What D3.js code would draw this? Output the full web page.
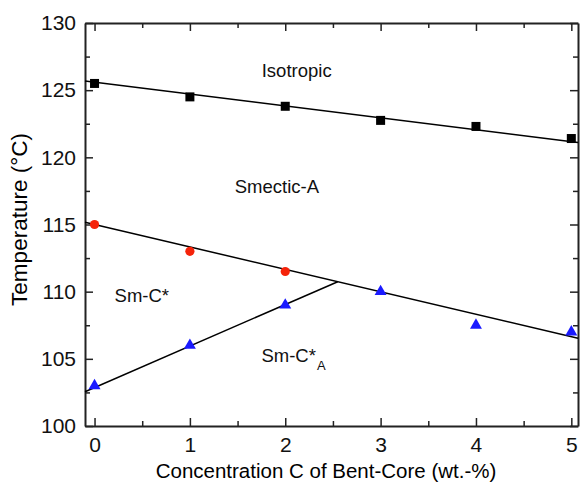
<!DOCTYPE html>
<html>
<head>
<meta charset="utf-8">
<script src="https://cdn.jsdelivr.net/npm/d3@7"></script>
<style>
  body { margin: 0; background: #fff; }
  text { font-family: "Liberation Sans", Arial, sans-serif; }
</style>
</head>
<body>
<div id="chart"></div>
<script>
/* Phase diagram: transition temperatures vs bent-core concentration */

// measured points
const conc = [0, 1, 2, 3, 4, 5];
const isoTemp = [125.5, 124.5, 123.8, 122.75, 122.3, 121.4];   // Iso -> SmA
const smcConc = [0, 1, 2];
const smcTemp = [115.0, 113.0, 111.5];                           // SmA -> SmC*
const smcaTemp = [103.0, 106.0, 109.0, 110.0, 107.5, 107.0];     // SmC* -> SmCA*

// fitted boundaries: [value at C=0, slope]
const isoFit = [125.6, -0.885];
const smcFit = [115.0, -1.67];
const smcaFit = [102.86, 3.09];

const xTicks = [0, 1, 2, 3, 4, 5];
const yTicks = [100, 105, 110, 115, 120, 125, 130];

const width = 580,
  height = 484,
  margin = {top: 23, right: 2, bottom: 58, left: 85};

const x = d3.scaleLinear().domain([-0.1, 5.07]).range([margin.left, width - margin.right]);
const y = d3.scaleLinear().domain([100, 130]).range([height - margin.bottom, margin.top]);

const svg = d3.select("#chart")
  .append("svg")
  .attr("width", width)
  .attr("height", height);

const minorX = d3.range(0.5, 5, 1);
const minorY = d3.range(102.5, 130, 5);

// axes with inward ticks on all four sides
function styleAxis(g) {
  g.select(".domain").attr("stroke", "#222").attr("stroke-width", 2);
  g.selectAll(".tick line").attr("stroke", "#222").attr("stroke-width", 1.5);
  g.selectAll(".tick text").attr("font-size", 21).attr("fill", "#111");
}

svg.append("g")
  .attr("transform", `translate(0,${y(100)})`)
  .call(d3.axisBottom(x).tickValues(xTicks).tickFormat(d3.format("d"))
    .tickSizeInner(-8).tickSizeOuter(0).tickPadding(11))
  .call(styleAxis);
svg.append("g")
  .attr("transform", `translate(0,${y(100)})`)
  .call(d3.axisBottom(x).tickValues(minorX).tickSize(-5).tickFormat(""))
  .call(styleAxis)
  .call(g => g.select(".domain").remove());

svg.append("g")
  .attr("transform", `translate(0,${y(130)})`)
  .call(d3.axisTop(x).tickValues(xTicks).tickSizeInner(-8).tickSizeOuter(0).tickFormat(""))
  .call(styleAxis);
svg.append("g")
  .attr("transform", `translate(0,${y(130)})`)
  .call(d3.axisTop(x).tickValues(minorX).tickSize(-5).tickFormat(""))
  .call(styleAxis)
  .call(g => g.select(".domain").remove());

svg.append("g")
  .attr("transform", `translate(${x(-0.1)},0)`)
  .call(d3.axisLeft(y).tickValues(yTicks).tickSizeInner(-8).tickSizeOuter(0).tickPadding(9))
  .call(styleAxis);
svg.append("g")
  .attr("transform", `translate(${x(-0.1)},0)`)
  .call(d3.axisLeft(y).tickValues(minorY).tickSize(-5).tickFormat(""))
  .call(styleAxis)
  .call(g => g.select(".domain").remove());

svg.append("g")
  .attr("transform", `translate(${x(5.07)},0)`)
  .call(d3.axisRight(y).tickValues(yTicks).tickSizeInner(-8).tickSizeOuter(0).tickFormat(""))
  .call(styleAxis);
svg.append("g")
  .attr("transform", `translate(${x(5.07)},0)`)
  .call(d3.axisRight(y).tickValues(minorY).tickSize(-5).tickFormat(""))
  .call(styleAxis)
  .call(g => g.select(".domain").remove());

// axis titles
svg.append("text")
  .attr("x", 326)
  .attr("y", 478)
  .attr("text-anchor", "middle")
  .attr("font-size", 20.5)
  .text("Concentration C of Bent-Core (wt.-%)");

svg.append("text")
  .attr("transform", `translate(27,${(y(100) + y(130)) / 2 - 5}) rotate(-90)`)
  .attr("text-anchor", "middle")
  .attr("font-size", 22.5)
  .text("Temperature (°C)");

// fitted lines
const fitY = (f, c) => f[0] + f[1] * c;
const cross = (smcaFit[0] - smcFit[0]) / (smcFit[1] - smcaFit[1]);  // where SmC*/SmCA* meets SmA line

const lines = [
  [[-0.1, fitY(isoFit, -0.1)], [5.07, fitY(isoFit, 5.07)]],
  [[-0.1, fitY(smcFit, -0.1)], [5.07, fitY(smcFit, 5.07)]],
  [[-0.1, fitY(smcaFit, -0.1)], [cross, fitY(smcaFit, cross)]]
];

svg.append("g")
  .attr("fill", "none")
  .attr("stroke", "#000")
  .attr("stroke-width", 1.5)
  .selectAll("path")
  .data(lines)
  .join("path")
  .attr("d", d3.line().x(d => x(d[0])).y(d => y(d[1])));

// markers
svg.append("g")
  .selectAll("rect")
  .data(conc.map((c, i) => [c, isoTemp[i]]))
  .join("rect")
  .attr("x", d => x(d[0]) - 4.5)
  .attr("y", d => y(d[1]) - 4.5)
  .attr("width", 9)
  .attr("height", 9)
  .attr("fill", "#000");

svg.append("g")
  .selectAll("circle")
  .data(smcConc.map((c, i) => [c, smcTemp[i]]))
  .join("circle")
  .attr("cx", d => x(d[0]))
  .attr("cy", d => y(d[1]))
  .attr("r", 4.6)
  .attr("fill", "#f5230a");

svg.append("g")
  .selectAll("path")
  .data(conc.map((c, i) => [c, smcaTemp[i]]))
  .join("path")
  .attr("transform", d => `translate(${x(d[0])},${y(d[1])})`)
  .attr("d", d3.symbol(d3.symbolTriangle, 62))
  .attr("fill", "#1a1aff");

// phase labels
const phase = svg.append("g").attr("font-size", 18.5).attr("fill", "#111");

phase.append("text")
  .attr("x", x(2.12)).attr("y", y(125.98))
  .attr("text-anchor", "middle")
  .text("Isotropic");

phase.append("text")
  .attr("x", x(1.47)).attr("y", y(117.34))
  .text("Smectic-A");

phase.append("text")
  .attr("x", x(0.21)).attr("y", y(109.23))
  .text("Sm-C*");

const sca = phase.append("text")
  .attr("x", x(1.75)).attr("y", y(104.76));
sca.append("tspan").text("Sm-C*");
sca.append("tspan").attr("font-size", 13).attr("dy", 8).attr("dx", 1).text("A");
</script>
</body>
</html>
